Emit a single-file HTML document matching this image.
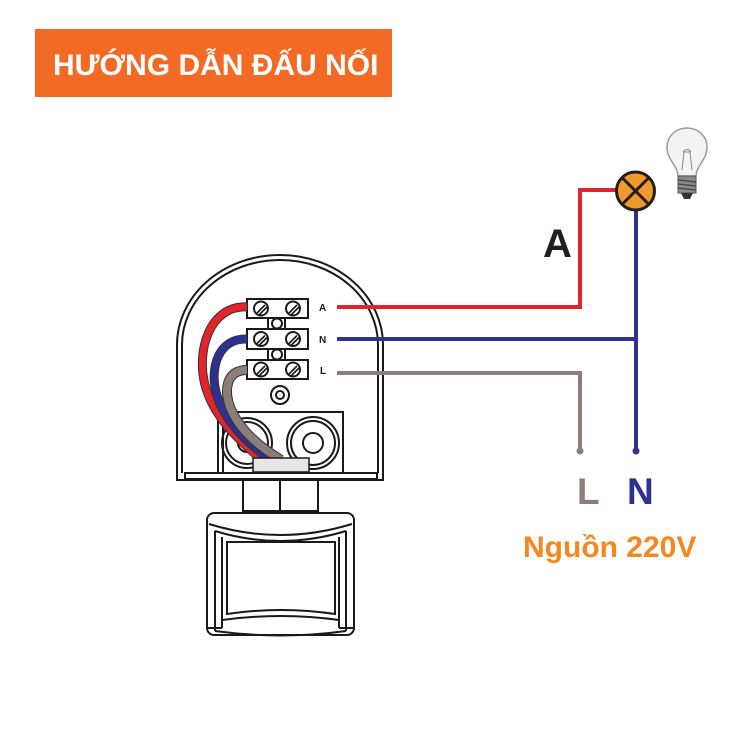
<!DOCTYPE html>
<html><head><meta charset="utf-8"><style>
html,body{margin:0;padding:0;background:#fff;}
svg{display:block;}
text{font-family:"Liberation Sans","DejaVu Sans",sans-serif;font-weight:bold;}
</style></head><body>
<svg width="750" height="750" viewBox="0 0 750 750" xmlns="http://www.w3.org/2000/svg">
<rect width="750" height="750" fill="#fff"/>
<!-- Banner -->
<rect x="35" y="29" width="357" height="68" fill="#F26A24"/>
<text x="53" y="75" font-size="30" fill="#fff">HƯỚNG DẪN ĐẤU NỐI</text>

<!-- Dome -->
<g fill="none" stroke="#1a1a1a" stroke-width="2">
<path d="M177,480 L177,345 A103,90 0 0 1 383,345 L383,480 Z" fill="#fff"/>
<path d="M182,473 L182,345 A98,85 0 0 1 378,345 L378,473"/>
<rect x="185" y="473" width="192" height="6"/>
<!-- gland box -->
<path d="M218,473 L218,412 L343,412 L343,473"/>
<line x1="223" y1="416" x2="223" y2="473"/>
<!-- glands -->
<circle cx="247" cy="443" r="25"/>
<circle cx="247" cy="443" r="21"/>
<circle cx="247" cy="443" r="9"/>
<circle cx="313" cy="443" r="26"/>
<circle cx="313" cy="443" r="22"/>
<circle cx="313" cy="443" r="10"/>
<!-- small screw -->
<circle cx="280" cy="395" r="9"/>
<circle cx="280" cy="395" r="4"/>
</g>

<!-- terminal block -->
<g fill="#fff" stroke="#1a1a1a" stroke-width="2">
<rect x="268" y="316" width="17" height="15"/>
<rect x="268" y="347" width="17" height="15"/>
<rect x="247" y="299" width="61" height="19"/>
<rect x="247" y="329" width="61" height="20"/>
<rect x="247" y="360" width="61" height="19"/>
<line x1="268" y1="317" x2="268" y2="330" stroke="#fff" stroke-width="0"/>
<circle cx="277" cy="323.5" r="5"/>
<circle cx="277" cy="354.5" r="5"/>
<g>
<circle cx="261" cy="308.5" r="7"/><circle cx="293" cy="308.5" r="7"/>
<circle cx="261" cy="339" r="7"/><circle cx="293" cy="339" r="7"/>
<circle cx="261" cy="369.5" r="7"/><circle cx="293" cy="369.5" r="7"/>
</g>
</g>
<g stroke="#1a1a1a" stroke-width="1.6">
<path d="M257,313 L265,305 M259,315 L267,307"/>
<path d="M289,313 L297,305 M291,315 L299,307"/>
<path d="M257,343.5 L265,335.5 M259,345.5 L267,337.5"/>
<path d="M289,343.5 L297,335.5 M291,345.5 L299,337.5"/>
<path d="M257,374 L265,366 M259,376 L267,368"/>
<path d="M289,374 L297,366 M291,376 L299,368"/>
</g>
<text x="319" y="311" font-size="10" fill="#1a1a1a">A</text>
<text x="319" y="343" font-size="10" fill="#1a1a1a">N</text>
<text x="320" y="374" font-size="10" fill="#1a1a1a">L</text>

<!-- internal wires -->
<g fill="none" stroke-linecap="butt">
<path d="M247,307 C210,305 196,350 205,385 C214,420 245,445 262,460" stroke="#333" stroke-width="9"/>
<path d="M247,307 C210,305 196,350 205,385 C214,420 245,445 262,460" stroke="#E3242B" stroke-width="7"/>
<path d="M247,339 C218,338 210,368 216,392 C224,424 252,446 270,460" stroke="#333" stroke-width="9"/>
<path d="M247,339 C218,338 210,368 216,392 C224,424 252,446 270,460" stroke="#2E3192" stroke-width="7"/>
<path d="M247,370 C226,370 224,390 230,407 C240,432 262,448 281,460" stroke="#333" stroke-width="10"/>
<path d="M247,370 C226,370 224,390 230,407 C240,432 262,448 281,460" stroke="#8B7D77" stroke-width="8"/>
</g>
<rect x="253" y="458" width="56" height="14" fill="#e6e6e6" stroke="#1a1a1a" stroke-width="1.5"/>

<!-- neck -->
<g fill="#fff" stroke="#1a1a1a" stroke-width="2">
<rect x="243" y="480" width="75" height="31"/>
<line x1="280" y1="480" x2="280" y2="511"/>
<!-- head -->
<rect x="207" y="513" width="147" height="122" rx="7"/>
<path d="M209,524 Q280,546 352,524" fill="none"/>
<path d="M215,531 Q280,551 346,531" fill="none"/>
<path d="M215,531 L215,631 M222,537 L222,628 M339,537 L339,628 M346,531 L346,631" fill="none"/>
<path d="M227,542 L335,542 L335,614 Q281,606 227,614 Z" fill="#fff"/>
<path d="M222,620 Q281,612 339,620" fill="none"/>
<path d="M215,631 Q281,640 346,631" fill="none"/>
<path d="M207,628 L222,628 M339,628 L354,628" fill="none"/>
</g>

<!-- external wires -->
<g fill="none" stroke-width="4">
<polyline points="337,307 580,307 580,190 617,190" stroke="#E3242B"/>
<line x1="337" y1="339" x2="636" y2="339" stroke="#2E3192"/>
<line x1="636" y1="208" x2="636" y2="451" stroke="#2E3192"/>
<polyline points="337,373 580,373 580,451" stroke="#8B7D77"/>
</g>
<circle cx="580" cy="451" r="3.5" fill="#8B7D77"/>
<circle cx="636" cy="451" r="3.5" fill="#2E3192"/>

<!-- lamp -->
<circle cx="635.5" cy="191" r="19" fill="#F39A2E" stroke="#231f20" stroke-width="3"/>
<line x1="622" y1="177.5" x2="649" y2="204.5" stroke="#231f20" stroke-width="3"/>
<line x1="649" y1="177.5" x2="622" y2="204.5" stroke="#231f20" stroke-width="3"/>

<!-- bulb -->
<path d="M678,176 C678,166 667,160 667,147 C667,136 676,128 687,128 C698,128 707,136 707,147 C707,160 696,166 696,176 Z" fill="#f3f3f3" stroke="#9a9a9a" stroke-width="1.5"/>
<path d="M682,170 L684,152 L690,152 L692,170 M683,152 Q687,147 691,152" fill="none" stroke="#888" stroke-width="1"/>
<rect x="678" y="176" width="18" height="17" fill="#8a8a8a" stroke="#555" stroke-width="1"/>
<path d="M678,180 L696,182 M678,184 L696,186 M678,188 L696,190" stroke="#444" stroke-width="1.2"/>
<path d="M681,193 L693,193 L690,199 L684,199 Z" fill="#333"/>

<!-- labels -->
<text x="543" y="257" font-size="40" fill="#231f20">A</text>
<text x="577" y="504" font-size="37" fill="#8B7D77">L</text>
<text x="627" y="504" font-size="37" fill="#2E3192">N</text>
<text x="523" y="557" font-size="30" fill="#F7861F">Nguồn 220V</text>
</svg>
</body></html>
